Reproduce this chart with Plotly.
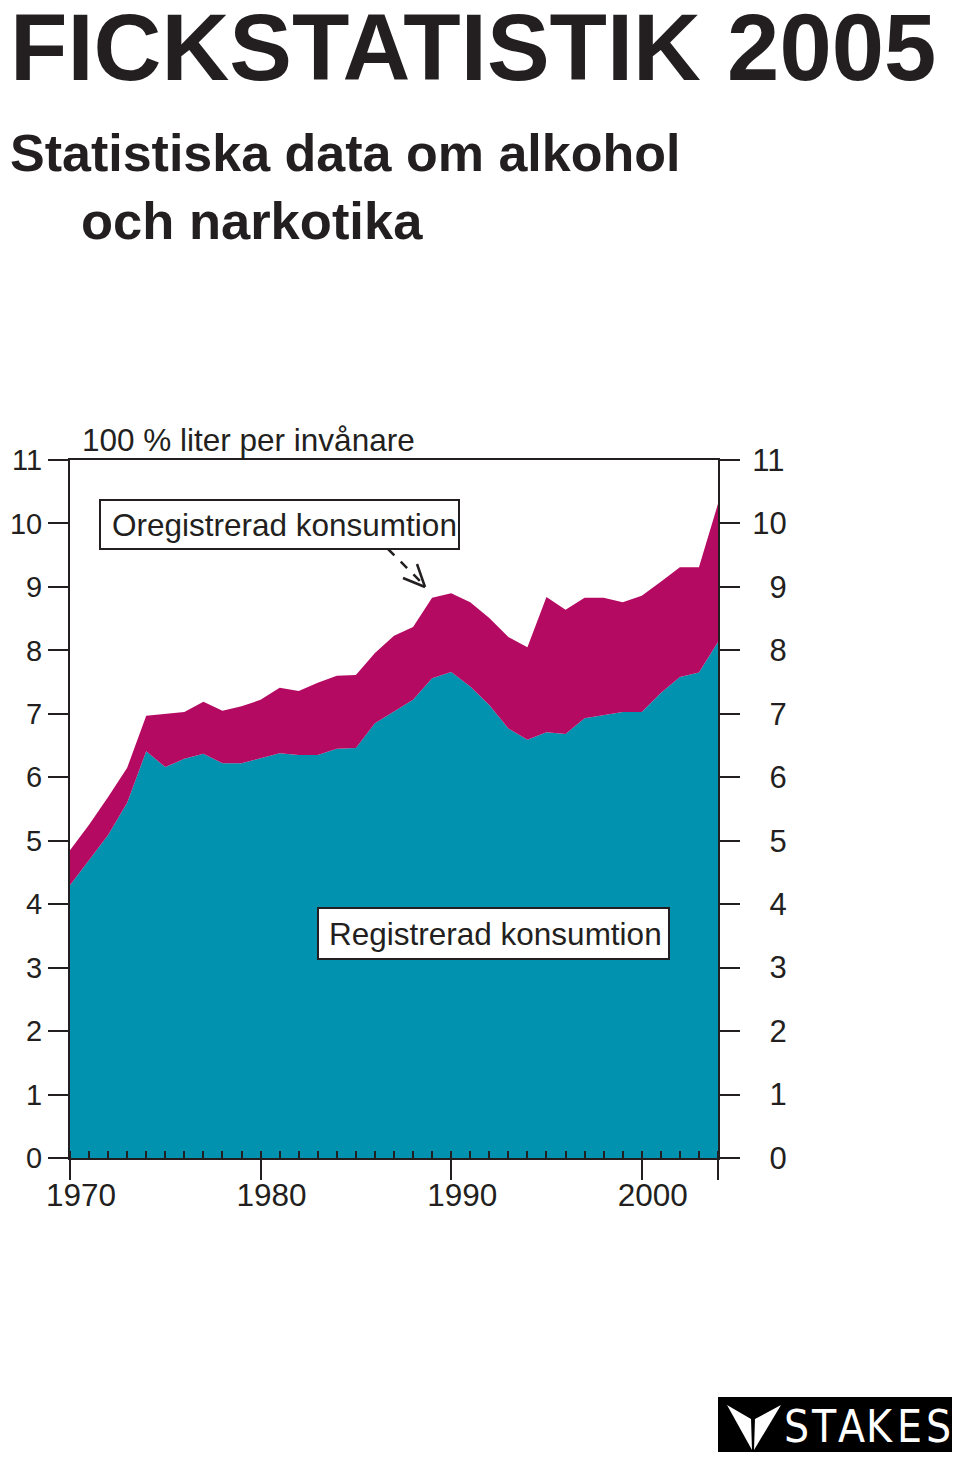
import plotly.graph_objects as go

# Alcohol consumption, 100 % alcohol in litres per inhabitant
years = [1970, 1971, 1972, 1973, 1974, 1975, 1976, 1977, 1978, 1979,
         1980, 1981, 1982, 1983, 1984, 1985, 1986, 1987, 1988, 1989,
         1990, 1991, 1992, 1993, 1994, 1995, 1996, 1997, 1998, 1999,
         2000, 2001, 2002, 2003, 2004]
registrerad = [4.30, 4.70, 5.09, 5.60, 6.41, 6.16, 6.29, 6.37, 6.22, 6.22,
               6.30, 6.38, 6.35, 6.35, 6.45, 6.46, 6.85, 7.03, 7.22, 7.56,
               7.66, 7.43, 7.14, 6.77, 6.59, 6.71, 6.68, 6.93, 6.98, 7.03,
               7.03, 7.33, 7.58, 7.65, 8.13]
oregistrerad = [0.55, 0.55, 0.60, 0.55, 0.56, 0.84, 0.74, 0.82, 0.83, 0.90,
                0.92, 1.03, 1.01, 1.14, 1.15, 1.15, 1.11, 1.20, 1.15, 1.27,
                1.24, 1.33, 1.37, 1.44, 1.46, 2.13, 1.96, 1.90, 1.85, 1.73,
                1.83, 1.75, 1.73, 1.66, 2.18]
y_ticks = [0, 1, 2, 3, 4, 5, 6, 7, 8, 9, 10, 11]
x_ticks = [1970, 1980, 1990, 2000, 2004]
x_ticktext = ["1970", "1980", "1990", "2000", ""]

TEAL = "#0092AE"
MAGENTA = "#B40A62"
INK = "#231f20"
FONT = "Liberation Sans, Arial, sans-serif"

# the page body adds an 8px margin, so the figure is drawn 8px smaller
# and every screen position below is given in screen pixels
OFF = 8
W, H = 960 - 2 * OFF, 1460 - 2 * OFF
L, R, T, B = 70, 718, 460, 1158   # plot area on screen


def px(x):
    return (x - L) / (R - L)


def py(y):
    return (B - y) / (B - T)


fig = go.Figure()
fig.add_trace(go.Scatter(
    x=years, y=registrerad, stackgroup="a", mode="lines",
    line=dict(width=0, color=TEAL), fillcolor=TEAL,
    name="Registrerad konsumtion", hoverinfo="x+y"))
fig.add_trace(go.Scatter(
    x=years, y=oregistrerad, stackgroup="a", mode="lines",
    line=dict(width=0, color=MAGENTA), fillcolor=MAGENTA,
    name="Oregistrerad konsumtion", hoverinfo="x+y"))
# carrier for the right-hand axis
fig.add_trace(go.Scatter(x=[years[0]], y=[0], yaxis="y2", mode="markers",
                         marker=dict(opacity=0), showlegend=False,
                         hoverinfo="skip"))

right_text = [("\u2007" + str(v)) if v < 10 else str(v) for v in y_ticks]

axis_common = dict(ticks="outside", ticklen=20, tickwidth=2, tickcolor=INK,
                   showline=True, linewidth=2, linecolor=INK,
                   showgrid=False, zeroline=False)

fig.update_layout(
    width=W, height=H,
    margin=dict(l=L - OFF, r=W - (R - OFF), t=T - OFF, b=H - (B - OFF),
                autoexpand=False),
    paper_bgcolor="white", plot_bgcolor="white",
    showlegend=False,
    font=dict(family=FONT, color=INK, size=31.5),
    xaxis=dict(
        range=[1970, 2004], tickvals=x_ticks, ticktext=x_ticktext,
        mirror=True, ticklabelshift=11, ticklabelstandoff=-12,
        tickfont=dict(size=31.5),
        minor=dict(dtick=1, tick0=1970, ticks="inside", ticklen=7,
                   tickwidth=1.5, tickcolor=INK, showgrid=False),
        **axis_common),
    yaxis=dict(range=[0, 11], tickvals=y_ticks, ticklabelstandoff=0,
               tickfont=dict(size=29), **axis_common),
    yaxis2=dict(range=[0, 11], tickvals=y_ticks, ticktext=right_text,
                overlaying="y", side="right", ticklabelstandoff=6,
                tickfont=dict(size=31), **axis_common),
)


def seg(x0, y0, x1, y1, **line):
    return dict(type="line", xref="paper", yref="paper",
                x0=px(x0), y0=py(y0), x1=px(x1), y1=py(y1),
                line=dict(color=INK, width=2.5, **line))


def tri(pts, color):
    p = "M " + " L ".join("{} {}".format(px(a), py(b)) for a, b in pts) + " Z"
    return dict(type="path", xref="paper", yref="paper", path=p,
                line=dict(width=0), fillcolor=color)


shapes = [
    # label boxes
    dict(type="rect", xref="paper", yref="paper",
         x0=px(100), x1=px(459), y0=py(549), y1=py(500),
         line=dict(color=INK, width=2), fillcolor="white"),
    dict(type="rect", xref="paper", yref="paper",
         x0=px(318), x1=px(669), y0=py(959), y1=py(908),
         line=dict(color=INK, width=2), fillcolor="white"),
    # dashed pointer with open arrowhead
    seg(388, 549, 421, 582, dash="dash"),
    seg(425, 587, 403, 578),
    seg(425, 587, 417, 564),
    # STAKES logo block
    dict(type="rect", xref="paper", yref="paper",
         x0=px(718), x1=px(958), y0=py(1457), y1=py(1397),
         line=dict(width=0), fillcolor="black"),
    tri([(727, 1405), (751, 1419), (752, 1450)], "white"),
    tri([(781, 1405), (755, 1419), (754, 1450)], "white"),
]
fig.update_layout(shapes=shapes)

annotations = [
    dict(text="<b>FICKSTATISTIK 2005</b>", x=px(OFF), y=py(47), xanchor="left",
         yanchor="middle", font=dict(size=94)),
    dict(text="<b>Statistiska data om alkohol</b>", x=px(OFF), y=py(153),
         xanchor="left", yanchor="middle", font=dict(size=52)),
    dict(text="<b>och narkotika</b>", x=px(79), y=py(221),
         xanchor="left", yanchor="middle", font=dict(size=52.5)),
    dict(text="100 % liter per invånare", x=px(80), y=py(440),
         xanchor="left", yanchor="middle", font=dict(size=31.5)),
    dict(text="Oregistrerad konsumtion", x=px(284), y=py(525),
         xanchor="center", yanchor="middle", font=dict(size=31.5)),
    dict(text="Registrerad konsumtion", x=px(495), y=py(934),
         xanchor="center", yanchor="middle", font=dict(size=31.5)),
]
for letter, cx in zip("STAKES", [796, 824, 851, 879, 909, 938]):
    annotations.append(dict(text=letter, x=px(cx), y=py(1426),
                            xanchor="center", yanchor="middle",
                            font=dict(size=44, color="white",
                                      family="Liberation Sans Narrow, DejaVu Sans Condensed, Liberation Sans")))
for a in annotations:
    a.update(xref="paper", yref="paper", showarrow=False)
fig.update_layout(annotations=annotations)

fig.write_html("out.html")
